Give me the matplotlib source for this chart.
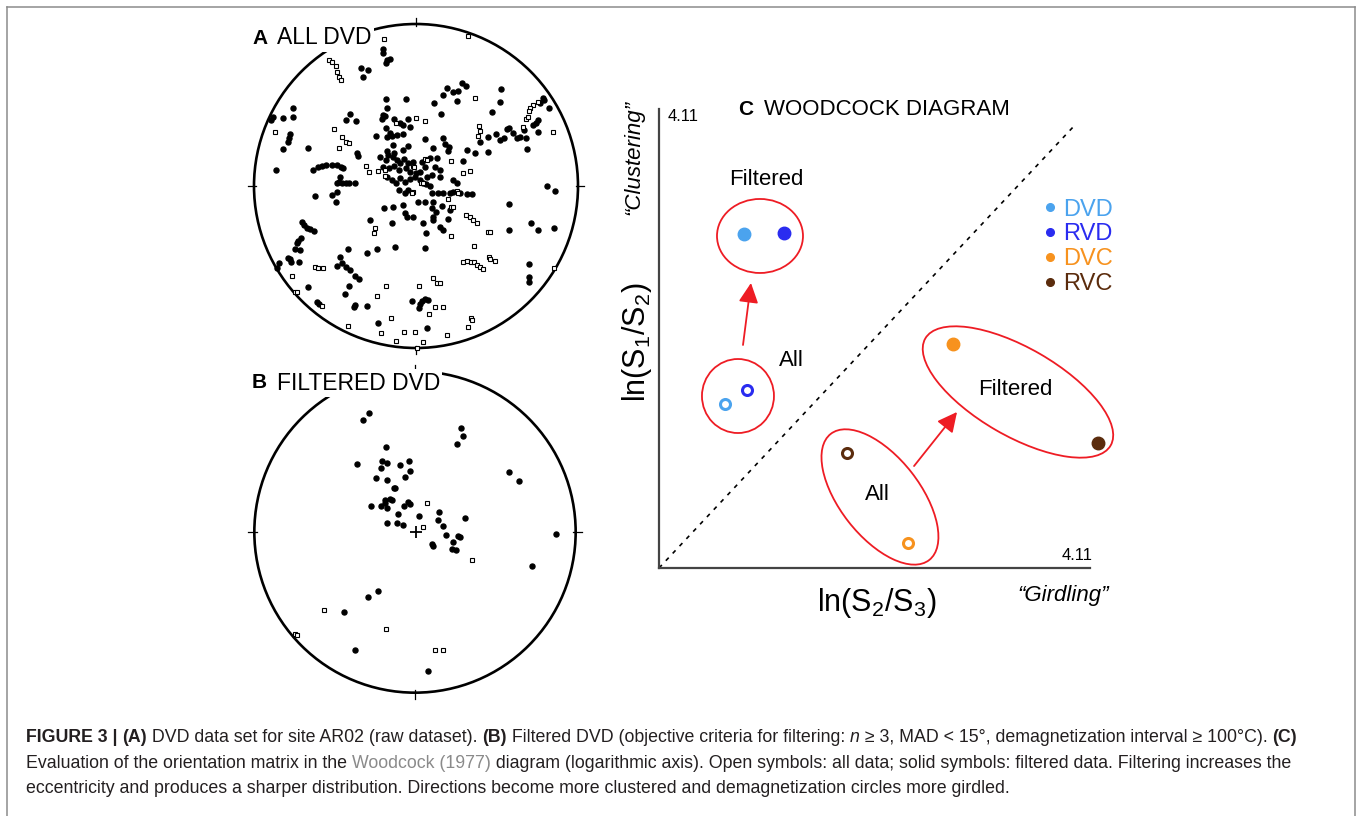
import numpy as np
import matplotlib.pyplot as plt
from matplotlib.patches import Circle, Ellipse
from matplotlib.lines import Line2D
from matplotlib.transforms import ScaledTranslation

plt.rcParams['font.family'] = ['Liberation Sans', 'DejaVu Sans']
plt.rcParams['mathtext.fontset'] = 'custom'
plt.rcParams['mathtext.rm'] = 'Liberation Sans'
plt.rcParams['mathtext.it'] = 'Liberation Sans:italic'

# ---- stereonet data, projected coords (primitive circle radius ~486 units) ----
a_solid = np.array([
    (-100, 410), (-98, 400), (-88, 378), (-78, 380), (-91, 370), (-166, 355), (-145, 348), (-160, 326),
    (138, 310), (150, 300), (94, 295), (112, 283), (127, 285), (122, 256), (80, 273), (254, 290),
    (252, 253), (55, 248), (-31, 260), (-91, 260), (380, 265), (384, 258), (372, 248), (400, 233),
    (-368, 235), (-370, 208), (-400, 205), (-428, 208), (-436, 198), (229, 223), (75, 215), (-88, 233),
    (-98, 213), (-103, 200), (-92, 210), (-198, 216), (-210, 198), (-180, 196), (-66, 201), (-48, 188),
    (-23, 202), (-38, 183), (352, 183), (360, 188), (365, 198), (-378, 156), (-380, 143), (-383, 133),
    (-90, 173), (-78, 158), (-73, 150), (-58, 153), (-40, 155), (-18, 176), (-121, 151), (-88, 148),
    (280, 173), (272, 170), (292, 158), (325, 168), (367, 163), (-398, 110), (-323, 113), (-178, 100),
    (-173, 90), (-68, 123), (-88, 105), (-66, 100), (-38, 108), (-23, 120), (27, 140), (52, 115),
    (82, 143), (87, 126), (100, 118), (97, 106), (192, 133), (217, 146), (240, 156), (252, 138),
    (264, 143), (304, 143), (312, 146), (330, 143), (332, 110), (217, 103), (177, 98), (152, 108),
    (-420, 48), (-308, 48), (-293, 58), (-283, 61), (-270, 63), (-253, 63), (-238, 63), (-226, 58),
    (-220, 55), (-108, 88), (-90, 78), (-83, 93), (-70, 86), (-58, 78), (-48, 68), (-36, 80),
    (-23, 68), (-8, 73), (-98, 58), (-80, 53), (-66, 60), (-50, 48), (-30, 53), (-18, 43),
    (0, 38), (12, 43), (27, 58), (32, 28), (47, 33), (57, 58), (62, 83), (42, 83),
    (17, 73), (140, 75), (72, 48), (-228, 28), (-230, 13), (-238, 8), (-222, 10), (-210, 10),
    (-200, 10), (-183, 8), (-88, 28), (-73, 18), (-60, 8), (-48, 23), (-33, 13), (-18, 20),
    (-3, 28), (12, 18), (20, 8), (30, 5), (42, 0), (72, 28), (112, 18), (122, 8),
    (394, 1), (417, -14), (-303, -30), (-253, -27), (-238, -17), (-240, -47), (-50, -12), (-33, -22),
    (-23, -12), (5, -47), (27, -47), (50, -47), (47, -22), (67, -22), (82, -20), (102, -22),
    (112, -17), (132, -22), (152, -24), (167, -24), (280, -55), (-38, -57), (-96, -67), (-68, -62),
    (-33, -82), (-28, -92), (47, -67), (60, -77), (77, -60), (50, -92), (-8, -92), (102, -72),
    (-343, -109), (-336, -117), (-328, -127), (-318, -130), (-306, -135), (-138, -102), (-73, -110), (22, -112),
    (52, -102), (72, -124), (80, -132), (97, -100), (30, -140), (280, -132), (345, -112), (365, -132),
    (415, -127), (-345, -155), (-353, -164), (-358, -170), (-362, -190), (-348, -192), (-203, -188), (-118, -188),
    (-63, -183), (27, -185), (-410, -232), (-383, -217), (-378, -220), (-376, -227), (-350, -227), (-418, -247),
    (-228, -212), (-223, -232), (-238, -239), (-148, -202), (-210, -242), (-198, -252), (340, -234), (-183, -270),
    (-171, -280), (-323, -302), (-200, -300), (340, -274), (340, -287), (-213, -325), (-298, -349), (-291, -355),
    (-183, -357), (-186, -364), (-148, -359), (-13, -344), (17, -344), (27, -339), (37, -342), (12, -354),
    (10, -367), (-113, -412), (32, -427),
])
a_open = np.array([
    (-96, 441), (157, 451), (-260, 378), (-253, 372), (-240, 360), (-238, 343), (-232, 326), (-224, 318),
    (178, 263), (365, 253), (352, 243), (342, 233), (338, 226), (-1, 203), (27, 196), (-60, 188),
    (330, 200), (335, 208), (-424, 163), (-245, 171), (-223, 148), (-210, 133), (-200, 128), (190, 180),
    (192, 165), (412, 163), (320, 178), (185, 150), (-232, 113), (-150, 60), (-140, 41), (-114, 46),
    (-93, 48), (-92, 30), (27, 80), (32, 78), (-10, 60), (-5, 58), (105, 75), (162, 45),
    (142, 38), (15, 8), (22, 10), (-8, -17), (-13, -22), (122, -14), (127, -20), (97, -39),
    (104, -62), (112, -62), (149, -87), (162, -92), (172, -102), (182, -112), (-124, -127), (-126, -142),
    (104, -150), (217, -139), (222, -139), (174, -180), (-303, -244), (-295, -247), (-280, -245), (142, -227),
    (152, -224), (165, -227), (175, -229), (182, -237), (192, -242), (202, -249), (220, -212), (222, -219),
    (237, -225), (415, -247), (-371, -269), (-91, -299), (9, -299), (52, -275), (62, -292), (72, -292),
    (-363, -317), (-356, -317), (-118, -330), (-283, -359), (57, -362), (80, -362), (40, -384), (-75, -395),
    (164, -395), (167, -402), (-205, -419), (-106, -440), (-35, -437), (-3, -439), (157, -422), (94, -447),
    (-61, -465), (22, -467), (2, -487),
])
b_solid = np.array([
    (-138, 358), (-155, 335), (-88, 255), (-175, 205), (-98, 212), (-83, 207), (-45, 202), (-17, 212),
    (-15, 182), (-102, 192), (-117, 162), (-83, 157), (-31, 164), (-63, 132), (-59, 131), (-91, 97),
    (-89, 87), (-75, 100), (-70, 95), (-131, 77), (-101, 77), (-83, 73), (-33, 77), (-20, 90),
    (-15, 83), (-50, 55), (13, 48), (73, 60), (68, 35), (85, 17), (151, 43), (-85, 27),
    (-53, 27), (-35, 21), (93, -10), (128, -12), (135, -15), (115, -30), (50, -37), (55, -43),
    (111, -50), (123, -53), (138, 313), (145, 287), (125, 265), (281, 179), (311, 154), (422, -5),
    (350, -103), (-111, -178), (-142, -194), (-214, -239), (-181, -355), (38, -418),
])
b_open = np.array([
    (36, 87), (23, 16), (171, -85), (-272, -233), (-86, -290), (60, -353), (85, -355), (-360, -307),
    (-353, -308),
])
b_mean = (2, 0)

# ---- Woodcock diagram data ----
series = ['DVD', 'RVD', 'DVC', 'RVC']
colors = ['#4ba3ee', '#2a2cf0', '#f7921e', '#5b2c0d']
all_x = [0.63, 0.84, 2.37, 1.79]
all_y = [1.47, 1.59, 0.22, 1.03]
filt_x = [0.81, 1.19, 2.80, 4.19]
filt_y = [2.99, 3.00, 2.01, 1.12]
axis_max = 4.11

W, H = 1357, 816
fig = plt.figure(figsize=(W / 100, H / 100), dpi=100)


def fx(px):
    return px / W


def fy(py):
    return 1 - py / H


# frame round the whole figure
for xs, ys in [((7, 1355), (7, 7)), ((7, 7), (7, 830)), ((1355, 1355), (7, 830))]:
    fig.add_artist(Line2D([fx(xs[0]), fx(xs[1])], [fy(ys[0]), fy(ys[1])], color='#8c8c8c', lw=1.1))


def stereonet(cx, cy, R, solid, opn):
    half = 178
    ax = fig.add_axes([fx(cx - half), fy(cy + half), 2 * half / W, 2 * half / H])
    lim = half * 3
    ax.set_xlim(-lim, lim)
    ax.set_ylim(-lim, lim)
    ax.axis('off')
    ax.add_patch(Circle((0, 0), R, fill=False, lw=1.9, color='black'))
    for dx, dy in [(0, 1), (1, 0), (0, -1), (-1, 0)]:
        ax.plot([dx * R * 0.985, dx * R * 1.04], [dy * R * 0.985, dy * R * 1.04], color='black', lw=0.9)
    ax.plot(solid[:, 0], solid[:, 1], 'o', ms=3.6, color='black', ls='none')
    ax.plot(opn[:, 0], opn[:, 1], 's', ms=3.2, mfc='white', mec='black', mew=0.8, ls='none')
    return ax


axA = stereonet(416, 186, 486, a_solid, a_open)
axB = stereonet(415, 532, 482, b_solid, b_open)
axB.plot(*b_mean, marker='+', ms=8, mew=1.3, color='black')

for letter, name, py in [('A', 'ALL DVD', 38), ('B', 'FILTERED DVD', 383)]:
    fig.text(fx(252), fy(py), letter, weight='bold', fontsize=15, va='center')
    fig.text(fx(277), fy(py), name, fontsize=16.5, va='center',
             bbox=dict(fc='white', ec='none', pad=1.5))

# ---- C: Woodcock diagram ----
ax = fig.add_axes([fx(659), fy(568), 431 / W, 459 / H])
ax.set_xlim(0, axis_max)
ax.set_ylim(0, axis_max)
ax.patch.set_alpha(0)
for s in ['top', 'right']:
    ax.spines[s].set_visible(False)
for s in ['left', 'bottom']:
    ax.spines[s].set_color('#444444')
    ax.spines[s].set_linewidth(1.6)
ax.set_xticks([])
ax.set_yticks([])

ax.plot([0, 3.95], [0, 3.95], color='black', lw=1.2, ls=(0, (2.5, 3.5)))

# red rings round the groups (size in pixels, centre in data units)
rings = [((0.963, 2.973), 86, 74, 0), ((0.753, 1.540), 72, 74, 0),
         ((2.107, 0.636), 160, 80, -52), ((3.423, 1.576), 214, 88, -30)]
for (cx, cy), w, h, ang in rings:
    tr = fig.dpi_scale_trans + ScaledTranslation(cx, cy, ax.transData)
    ax.add_patch(Ellipse((0, 0), w / 100, h / 100, angle=ang, transform=tr,
                         fill=False, ec='#ee1c24', lw=1.3, clip_on=False))

for start, tip in [((0.801, 1.997), (0.877, 2.552)), ((2.432, 0.913), (2.842, 1.397))]:
    ax.annotate('', xy=tip, xytext=start,
                arrowprops=dict(arrowstyle='-|>,head_length=0.6,head_width=0.3', color='#ee1c24',
                                lw=1.3, mutation_scale=20, shrinkA=0, shrinkB=0))

for i in range(len(series)):
    ax.plot(all_x[i], all_y[i], 'o', ms=7.2, mfc='white', mec=colors[i], mew=2.2, clip_on=False)
    ax.plot(filt_x[i], filt_y[i], 'o', ms=9, color=colors[i], clip_on=False)

for s, x, y in [('Filtered', 1.020, 3.483), ('All', 1.259, 1.862),
                ('All', 2.079, 0.654), ('Filtered', 3.395, 1.594)]:
    ax.text(x, y, s, fontsize=16, ha='center', va='center')

handles = [Line2D([], [], marker='o', ls='none', color=c, ms=5.5) for c in colors]
ax.legend(handles, series, loc='upper left', bbox_to_anchor=(0.893, 0.805), frameon=False,
          fontsize=17, handlelength=0.5, handletextpad=0.3, labelspacing=0.12,
          borderpad=0, borderaxespad=0, labelcolor=colors)

ax.text(0.021, 0.983, '4.11', transform=ax.transAxes, fontsize=12, ha='left', va='center')
ax.text(1.007, 0.028, '4.11', transform=ax.transAxes, fontsize=12, ha='right', va='center')
ax.text(0.183, 0.998, 'C', transform=ax.transAxes, fontsize=15, weight='bold', ha='left', va='center')
ax.text(0.244, 0.998, 'WOODCOCK DIAGRAM', transform=ax.transAxes, fontsize=16, ha='left', va='center')
ax.text(-0.05, 0.492, r'ln(S$_1$/S$_2$)', transform=ax.transAxes, fontsize=22,
        rotation=90, ha='center', va='center')
ax.text(-0.058, 0.895, '\u201cClustering\u201d', transform=ax.transAxes, fontsize=16,
        style='italic', rotation=90, ha='center', va='center')
ax.text(0.506, -0.076, r'ln(S$_2$/S$_3$)', transform=ax.transAxes, fontsize=22,
        ha='center', va='center')
ax.text(0.937, -0.059, '\u201cGirdling\u201d', transform=ax.transAxes, fontsize=16,
        style='italic', ha='center', va='center')

# ---- caption ----
BOLD = {'weight': 'bold'}
IT = {'style': 'italic'}
LINK = {'color': '#8a8a8a'}
N = {}
caption = [
    (742, [('FIGURE 3 | ', BOLD), ('(A)', BOLD), (' DVD data set for site AR02 (raw dataset). ', N),
           ('(B)', BOLD), (' Filtered DVD (objective criteria for filtering: ', N), ('n', IT),
           (' \u2265 3, MAD < 15\u00b0, demagnetization interval \u2265 100\u00b0C). ', N), ('(C)', BOLD)]),
    (768, [('Evaluation of the orientation matrix in the ', N), ('Woodcock (1977)', LINK),
           (' diagram (logarithmic axis). Open symbols: all data; solid symbols: filtered data. '
            'Filtering increases the', N)]),
    (793, [('eccentricity and produces a sharper distribution. Directions become more clustered '
            'and demagnetization circles more girdled.', N)]),
]
renderer = fig.canvas.get_renderer()
for py, parts in caption:
    x = fx(26)
    for s, style in parts:
        kw = dict(fontsize=12.8, color='#231f20', va='baseline')
        kw.update(style)
        t = fig.text(x, fy(py), s, **kw)
        x += t.get_window_extent(renderer).width / W

fig.savefig('out.png', dpi=100)
